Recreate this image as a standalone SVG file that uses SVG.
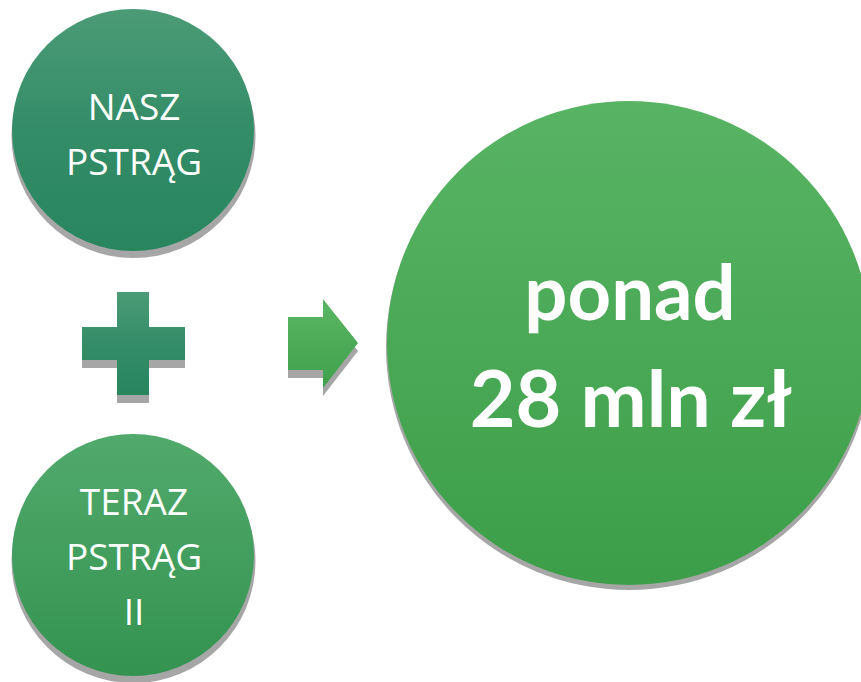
<svg xmlns="http://www.w3.org/2000/svg" width="861" height="682" viewBox="0 0 861 682">
<defs>
<linearGradient id="gTeal" x1="0" y1="0" x2="0" y2="1"><stop offset="0" stop-color="#4b9b76"/><stop offset="0.5" stop-color="#338d68"/><stop offset="1" stop-color="#28855e"/></linearGradient>
<linearGradient id="gGreen2" x1="0" y1="0" x2="0" y2="1"><stop offset="0" stop-color="#51aa6c"/><stop offset="1" stop-color="#349350"/></linearGradient>
<linearGradient id="gBig" x1="0" y1="0" x2="0" y2="1"><stop offset="0" stop-color="#58b464"/><stop offset="1" stop-color="#3c9e48"/></linearGradient>
<linearGradient id="gArrow" x1="0" y1="0" x2="0" y2="1"><stop offset="0" stop-color="#5ab662"/><stop offset="1" stop-color="#3fa04b"/></linearGradient>
</defs>
<style>
.shadow{fill:#a6a6a6}
.small{font-family:"Open Sans","Noto Sans",sans-serif;font-size:37px;fill:#ffffff;text-anchor:middle}
.big{font-family:Lato,"Open Sans",sans-serif;font-size:76px;font-weight:bold;fill:#ffffff;text-anchor:middle}
</style>
<g id="node-nasz">
<circle class="shadow" cx="133.5" cy="136" r="122"/>
<circle cx="133" cy="130" r="121" fill="url(#gTeal)"/>
<text class="small" x="134" y="120">NASZ</text>
<text class="small" x="134" y="175">PSTRĄG</text>
</g>
<g id="node-plus">
<path class="shadow" d="M117 300H149V335H185V368H149V403H117V368H82V335H117Z"/>
<path d="M117 292H149V327H185V360H149V395H117V360H82V327H117Z" fill="url(#gTeal)"/>
</g>
<g id="node-teraz">
<circle class="shadow" cx="133.5" cy="561" r="122"/>
<circle cx="133" cy="555" r="121" fill="url(#gGreen2)"/>
<text class="small" x="134" y="515">TERAZ</text>
<text class="small" x="134" y="570">PSTRĄG</text>
<text class="small" x="134" y="625">II</text>
</g>
<g id="connectors">
<path class="shadow" d="M288 325H323V307L358 351L323 396V378H288Z"/>
<path d="M288 317H323V299L358 343L323 388V370H288Z" fill="url(#gArrow)"/>
</g>
<g id="node-result">
<circle class="shadow" cx="629" cy="347" r="243"/>
<circle cx="629" cy="343" r="242" fill="url(#gBig)"/>
<text class="big" x="630" y="320">ponad</text>
<text class="big" x="631" y="427" style="font-size:79px">28 mln zł</text>
</g>
</svg>
